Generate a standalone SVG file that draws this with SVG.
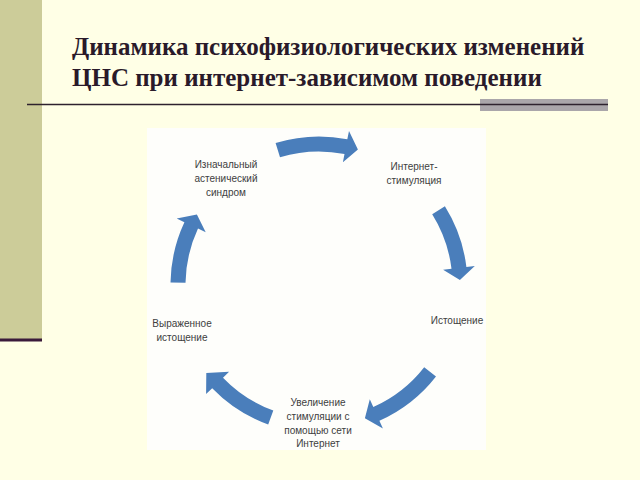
<svg xmlns="http://www.w3.org/2000/svg" width="640" height="480" viewBox="0 0 640 480">
<style>
.title{font-family:"Liberation Serif","Times New Roman",serif;font-weight:bold;font-size:25px;fill:#2a1a2a}
.lbl{font-family:"Liberation Sans",Arial,sans-serif;font-size:10px;fill:#404040;text-anchor:middle}
.arr{fill:#4a7ebb}
</style>
<rect x="0" y="0" width="640" height="480" fill="#ffffe6"/>
<rect x="0" y="0" width="42" height="340" fill="#cccc99"/>
<rect x="0" y="338.5" width="42" height="3" fill="#3a1a3a"/>
<rect x="480" y="99" width="128" height="12" fill="#aaa6aa"/>
<line x1="27" y1="104.5" x2="608" y2="104.5" stroke="#2e222e" stroke-width="1.6"/>
<text class="title" x="72" y="55">Динамика психофизиологических изменений</text>
<text class="title" x="72" y="86">ЦНС при интернет-зависимом поведении</text>
<rect x="147" y="128" width="339" height="322" fill="#fefefb"/>
<g id="connectors">
<path class="arr" d="M275.6,143.0 A148.5,148.5 0 0 1 347.3,139.2 L349.0,130.9 L357.9,149.5 L342.9,162.3 L344.5,154.0 A133.5,133.5 0 0 0 280.0,157.3 Z"/>
<path class="arr" d="M444.9,206.3 A148.5,148.5 0 0 1 466.4,266.9 L474.8,265.9 L459.9,280.1 L443.1,269.8 L451.5,268.7 A133.5,133.5 0 0 0 432.2,214.3 Z"/>
<path class="arr" d="M436.0,376.4 A148.5,148.5 0 0 1 379.4,420.7 L382.9,428.4 L364.9,418.3 L369.8,399.2 L373.3,407.0 A133.5,133.5 0 0 0 424.2,367.2 Z"/>
<path class="arr" d="M268.2,424.5 A148.5,148.5 0 0 1 212.2,388.2 L206.1,394.1 L206.3,373.0 L229.1,371.8 L223.0,377.7 A133.5,133.5 0 0 0 273.3,410.5 Z"/>
<path class="arr" d="M170.5,282.4 A148.5,148.5 0 0 1 184.4,222.2 L176.7,218.6 L196.9,214.5 L205.7,232.2 L198.0,228.6 A133.5,133.5 0 0 0 185.5,282.7 Z"/>
</g>
<g id="node1"><text class="lbl" x="226" y="168">Изначальный</text><text class="lbl" x="226" y="182">астенический</text><text class="lbl" x="226" y="196">синдром</text></g>
<g id="node2"><text class="lbl" x="414" y="170">Интернет-</text><text class="lbl" x="414" y="184">стимуляция</text></g>
<g id="node3"><text class="lbl" x="457" y="324">Истощение</text></g>
<g id="node4"><text class="lbl" x="318" y="406">Увеличение</text><text class="lbl" x="318" y="420">стимуляции с</text><text class="lbl" x="318" y="434">помощью сети</text><text class="lbl" x="318" y="447">Интернет</text></g>
<g id="node5"><text class="lbl" x="182" y="327">Выраженное</text><text class="lbl" x="182" y="341">истощение</text></g>
</svg>
